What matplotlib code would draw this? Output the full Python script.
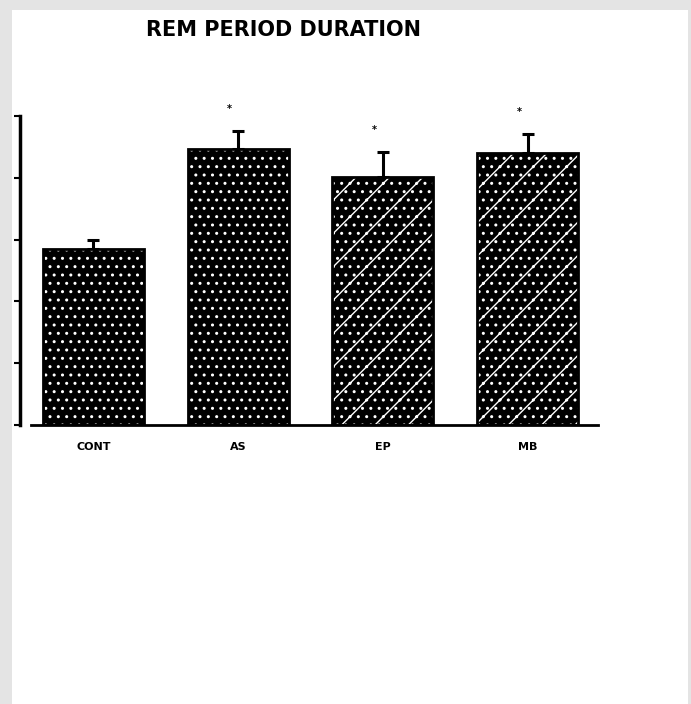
import numpy as np
import matplotlib
matplotlib.use('Agg')
import matplotlib.pyplot as plt
from matplotlib.patches import Rectangle

groups = ['CONT', 'AS', 'EP', 'MB']
means = [2.85, 4.47, 4.01, 4.40]
errs = [0.14, 0.29, 0.41, 0.31]
stars = ['', '*', '*', '*']
hatches = ['..', '..', '/..', '/..']

plt.rcParams['hatch.linewidth'] = 1.0

fig = plt.figure(figsize=(6.91, 7.04), dpi=100)
fig.patch.set_facecolor('#e4e4e4')
# white page inside the scan border
fig.patches.append(Rectangle((12/691, 0), 676/691, 694/704, transform=fig.transFigure,
                             facecolor='white', edgecolor='none', zorder=-10))

ax = fig.add_axes([20/691, (704-425)/704, 578/691, 309/704])
ax.set_facecolor('none')
ax.set_zorder(5)

x = np.arange(len(groups))
# black bars with white speckle
ax.bar(x, means, width=0.7, color='black', edgecolor='white', linewidth=0, hatch=hatches, zorder=2)
ax.bar(x, means, width=0.7, fill=False, edgecolor='black', linewidth=2, zorder=3)
ax.errorbar(x, means, yerr=[np.zeros(len(errs)), errs], fmt='none', ecolor='black',
            elinewidth=2.2, capsize=4, capthick=2.2, zorder=1)

for xi, m, e, s in zip(x, means, errs, stars):
    if s:
        ax.text(xi - 0.06, m + e + 0.36, s, ha='center', va='center', fontsize=7,
                fontweight='bold', clip_on=False)

ax.set_xlim(-0.508, 3.487)
ax.set_ylim(0, 5)
ax.set_yticks(np.arange(0, 6))
ax.set_yticklabels([])
ax.set_xticks(x)
ax.set_xticklabels(groups, fontsize=8, fontweight='bold')
ax.tick_params(axis='x', length=0, pad=12)
ax.tick_params(axis='y', direction='out', length=4, width=1.5)

ax.spines['top'].set_visible(False)
ax.spines['right'].set_visible(False)
ax.spines['left'].set_linewidth(2.5)
ax.spines['bottom'].set_linewidth(2)
ax.spines['bottom'].set_bounds(-0.43, 3.487)

fig.text(283/691, 1 - 30/704, 'REM PERIOD DURATION', ha='center', va='center',
         fontsize=15, fontweight='bold')

fig.savefig('out.png', dpi=100, facecolor=fig.get_facecolor())
